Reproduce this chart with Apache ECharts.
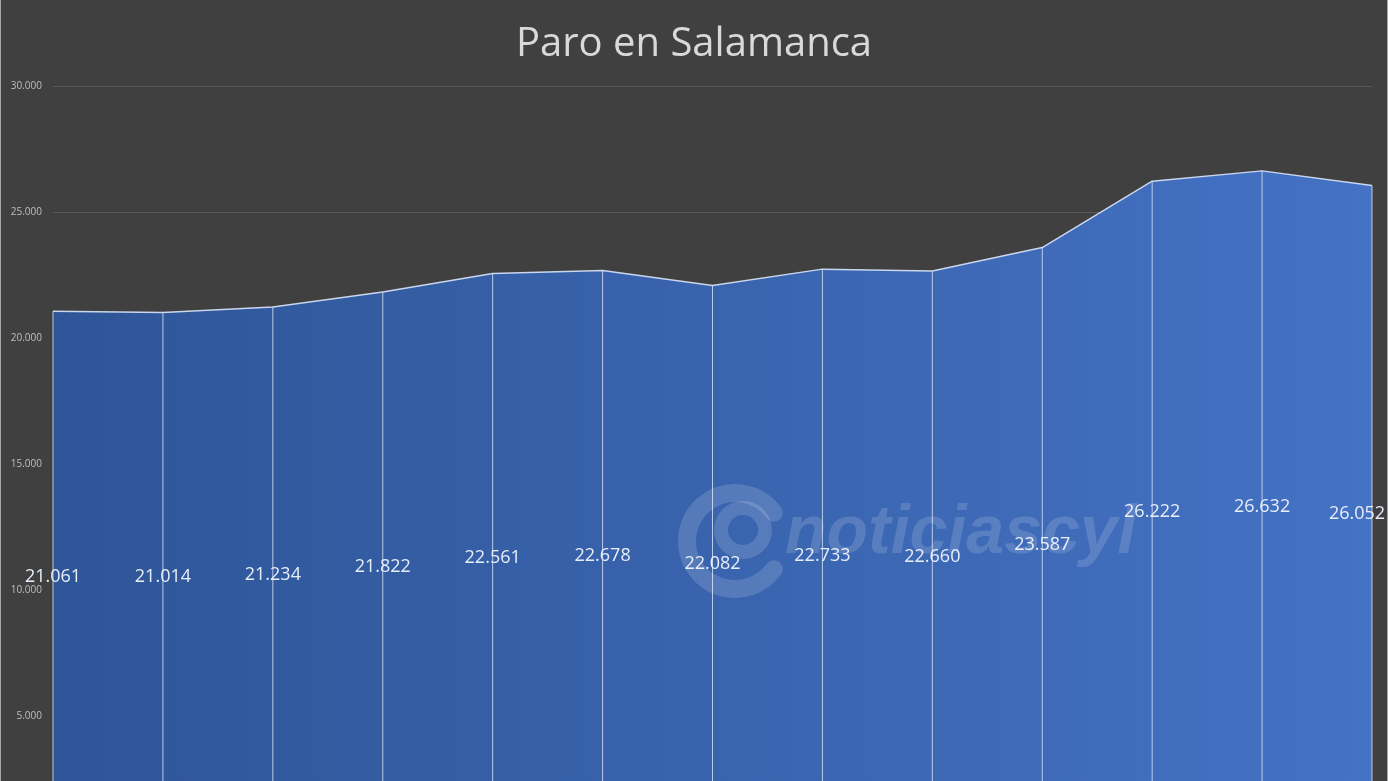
<!DOCTYPE html>
<html>
<head>
<meta charset="utf-8">
<script src="https://cdn.jsdelivr.net/npm/echarts@6/dist/echarts.min.js"></script>
<style>
html,body{margin:0;padding:0;background:#404040;}
#c{width:1388px;height:781px;}
</style>
</head>
<body>
<div id="c"></div>
<script>
var categories = ['1','2','3','4','5','6','7','8','9','10','11','12','13'];
var paro = [21061, 21014, 21234, 21822, 22561, 22678, 22082, 22733, 22660, 23587, 26222, 26632, 26052];
var yTicks = [0, 5000, 10000, 15000, 20000, 25000, 30000];

function fmt(v){ return String(v).replace(/\B(?=(\d{3})+(?!\d))/g, '.'); }

var chart = echarts.init(document.getElementById('c'));
chart.setOption({
  backgroundColor: '#404040',
  animation: false,
  title: {
    text: 'Paro en Salamanca',
    left: 'center',
    top: 20,
    textStyle: { color: '#d9d9d9', fontSize: 40, fontWeight: 'normal', fontFamily: 'Open Sans' }
  },
  grid: { left: 53, right: 16, top: 86, bottom: -61, outerBoundsMode: 'none', containLabel: false },
  xAxis: {
    type: 'category',
    data: categories,
    boundaryGap: false,
    axisLine: { show: false },
    axisTick: { show: false },
    axisLabel: { show: false },
    splitLine: { show: false }
  },
  yAxis: {
    type: 'value',
    min: yTicks[0],
    max: yTicks[yTicks.length - 1],
    interval: 5000,
    axisLine: { show: false },
    axisTick: { show: false },
    axisLabel: { color: '#bfbfbf', fontSize: 10, fontFamily: 'Open Sans', margin: 11, formatter: function(v){ return fmt(v); } },
    splitLine: { lineStyle: { color: '#595959', width: 1 } }
  },
  graphic: [
    { type: 'rect', z: 120, shape: { x: 0, y: 0, width: 1, height: 781 }, style: { fill: '#a6a6a6' } },
    { type: 'rect', z: 120, shape: { x: 1387, y: 0, width: 1, height: 781 }, style: { fill: '#a6a6a6' } },
    { type: 'arc', z: 100, shape: { cx: 735, cy: 541, r: 48, startAngle: -Math.PI * 0.2, endAngle: Math.PI * 0.2, clockwise: false },
      style: { stroke: 'rgba(255,255,255,0.15)', lineWidth: 18, fill: null, lineCap: 'round' } },
    { type: 'circle', z: 100, shape: { cx: 743, cy: 530, r: 22 },
      style: { stroke: 'rgba(255,255,255,0.15)', lineWidth: 14, fill: null } },
    { type: 'text', z: 100, left: 785, top: 500,
      style: { text: 'noticiascyl', fill: 'rgba(255,255,255,0.15)', font: 'italic bold 68px "Liberation Sans"' } }
  ],
  series: [
    {
      type: 'line',
      data: paro,
      symbol: 'none',
      lineStyle: { color: '#c9d6ee', width: 1.5 },
      areaStyle: {
        opacity: 1,
        color: new echarts.graphic.LinearGradient(0, 0, 1, 0, [
          { offset: 0, color: '#2e5597' },
          { offset: 1, color: '#4472c4' }
        ])
      },
      z: 2
    },
    {
      type: 'custom',
      data: paro.map(function(v, i){ return [i, v]; }),
      z: 5,
      renderItem: function(params, api){
        var i = api.value(0), v = api.value(1);
        var top = api.coord([i, v]);
        var bot = api.coord([i, 0]);
        var W = api.getWidth();
        var lx = Math.min(top[0], W - 31);
        return {
          type: 'group',
          children: [
            { type: 'line', shape: { x1: top[0], y1: top[1], x2: bot[0], y2: bot[1] },
              style: { stroke: 'rgba(210,222,245,0.85)', lineWidth: 1 } },
            { type: 'text', x: lx, y: (top[1] + bot[1]) / 2,
              style: { text: fmt(v), fill: '#e8eef8', font: '18px "Open Sans"', align: 'center', verticalAlign: 'middle' } }
          ]
        };
      }
    }
  ]
});
</script>
</body>
</html>
